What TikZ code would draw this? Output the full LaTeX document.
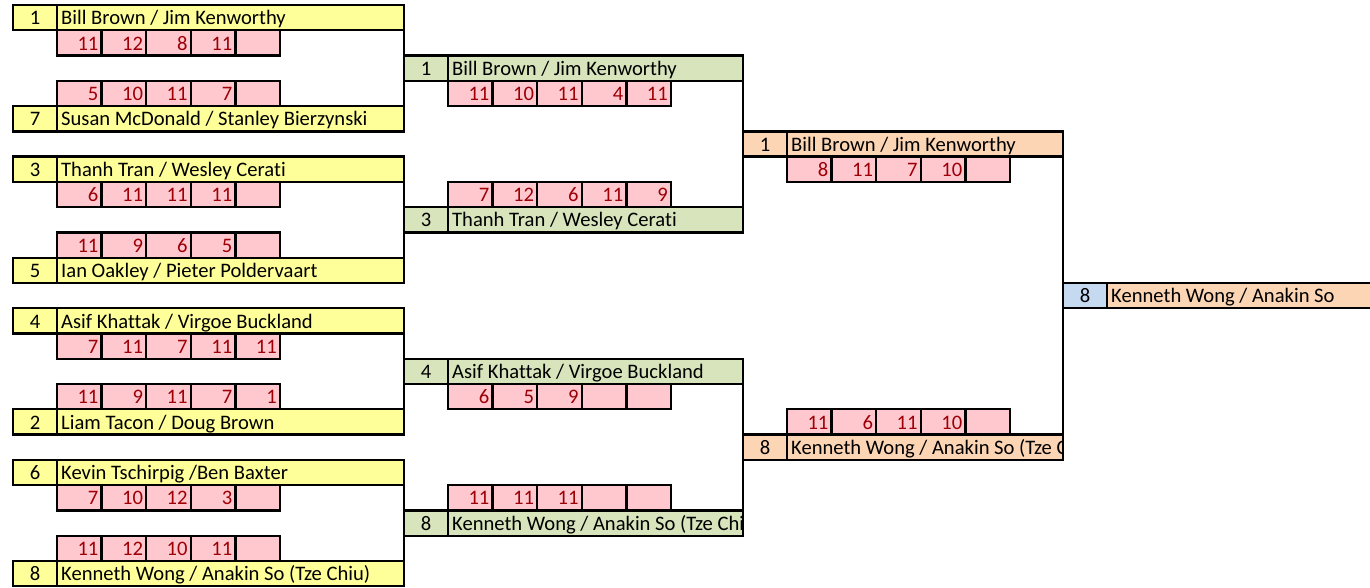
\documentclass[tikz,border=0pt]{standalone}
\usepackage{fontspec}
\setmainfont{Carlito}[Ligatures={NoCommon}]
\definecolor{yel}{HTML}{FFFF99}
\definecolor{grn}{HTML}{D8E4BC}
\definecolor{org}{HTML}{FCD5B4}
\definecolor{blu}{HTML}{C5D9F1}
\definecolor{pnk}{HTML}{FFC7CE}
\definecolor{drd}{HTML}{9C0006}
% #1 name, #2 seed left, #3 name left, #4 name right, #5 row, #6 seed, #7 text, #8 seed colour, #9 name colour
\newcommand{\player}[9]{%
  \pgfmathsetmacro{\yc}{5+25.27*(#5+0.5)}%
  \pgfmathsetmacro{\wa}{#3-#2}%
  \pgfmathsetmacro{\wb}{#4-#3}%
  \node[cellbox, fill=#8, minimum width=\wa pt] (#1s) at ({(#2+#3)/2},\yc) {};
  \node[cellbox, fill=#9, minimum width=\wb pt] (#1) at ({(#3+#4)/2},\yc) {};
  \node[txt, anchor=base] at ([yshift=5.5pt]#1s.south) {#6};
  \begin{scope}
    \clip (#1.south west) rectangle (#1.north east);
    \node[txt, anchor=base west] at ([xshift=4pt,yshift=5.5pt]#1.south west) {#7};
  \end{scope}
}
% one score cell: #1 name, #2 x centre, #3 y centre, #4 value
\newcommand{\scell}[4]{%
  \node[scorebox] (#1) at (#2,#3) {};
  \node[stxt, anchor=base east] at ([xshift=-3pt,yshift=5.5pt]#1.south east) {#4};
}
% #1 name, #2 x left, #3 row, #4-#8 values
\newcommand{\scorerow}[8]{%
  \pgfmathsetmacro{\yc}{5+25.27*(#3+0.5)}%
  \scell{#1a}{#2+22.3}{\yc}{#4}
  \scell{#1b}{#2+66.9}{\yc}{#5}
  \scell{#1c}{#2+111.5}{\yc}{#6}
  \scell{#1d}{#2+156.1}{\yc}{#7}
  \scell{#1e}{#2+200.7}{\yc}{#8}
}
\begin{document}
\begin{tikzpicture}[x=1pt,y=-1pt,
  cellbox/.style={draw=black, line width=2.3pt, rectangle, inner sep=0pt, outer sep=0pt, minimum height=25.27pt},
  scorebox/.style={draw=black, line width=2.3pt, fill=pnk, rectangle, inner sep=0pt, outer sep=0pt, minimum width=44.6pt, minimum height=25.27pt},
  txt/.style={inner sep=0pt, font=\fontsize{20.6}{23}\selectfont, text=black},
  stxt/.style={inner sep=0pt, font=\fontsize{20.6}{23}\selectfont, text=drd},
  conn/.style={draw=black, line width=2.3pt}]
\useasboundingbox (0,0) rectangle (1370,587);
\fill[white] (0,0) rectangle (1370,587);

% first round
\player{p1}{13}{57}{404}{0}{1}{Bill Brown / Jim Kenworthy}{yel}{yel}
\scorerow{sa}{57}{1}{11}{12}{8}{11}{}
\scorerow{sb}{57}{3}{5}{10}{11}{7}{}
\player{p2}{13}{57}{404}{4}{7}{Susan McDonald / Stanley Bierzynski}{yel}{yel}
\player{p3}{13}{57}{404}{6}{3}{Thanh Tran / Wesley Cerati}{yel}{yel}
\scorerow{sc}{57}{7}{6}{11}{11}{11}{}
\scorerow{sd}{57}{9}{11}{9}{6}{5}{}
\player{p4}{13}{57}{404}{10}{5}{Ian Oakley / Pieter Poldervaart}{yel}{yel}
\player{p5}{13}{57}{404}{12}{4}{Asif Khattak / Virgoe Buckland}{yel}{yel}
\scorerow{se}{57}{13}{7}{11}{7}{11}{11}
\scorerow{sf}{57}{15}{11}{9}{11}{7}{1}
\player{p6}{13}{57}{404}{16}{2}{Liam Tacon / Doug Brown}{yel}{yel}
\player{p7}{13}{57}{404}{18}{6}{Kevin Tschirpig /Ben Baxter}{yel}{yel}
\scorerow{sg}{57}{19}{7}{10}{12}{3}{}
\scorerow{sh}{57}{21}{11}{12}{10}{11}{}
\player{p8}{13}{57}{404}{22}{8}{Kenneth Wong / Anakin So (Tze Chiu)}{yel}{yel}

% semi-finals
\player{q1}{404}{448}{743}{2}{1}{Bill Brown / Jim Kenworthy}{grn}{grn}
\scorerow{ta}{448}{3}{11}{10}{11}{4}{11}
\scorerow{tb}{448}{7}{7}{12}{6}{11}{9}
\player{q2}{404}{448}{743}{8}{3}{Thanh Tran / Wesley Cerati}{grn}{grn}
\player{q3}{404}{448}{743}{14}{4}{Asif Khattak / Virgoe Buckland}{grn}{grn}
\scorerow{tc}{448}{15}{6}{5}{9}{}{}
\scorerow{td}{448}{19}{11}{11}{11}{}{}
\player{q4}{404}{448}{743}{20}{8}{Kenneth Wong / Anakin So (Tze Chiu)}{grn}{grn}

% final
\player{r1}{743}{787}{1063}{5}{1}{Bill Brown / Jim Kenworthy}{org}{org}
\scorerow{ua}{787}{6}{8}{11}{7}{10}{}
\scorerow{ub}{787}{16}{11}{6}{11}{10}{}
\player{r2}{743}{787}{1063}{17}{8}{Kenneth Wong / Anakin So (Tze Chiu)}{org}{org}

% winner
\player{w}{1063}{1107}{1385}{11}{8}{Kenneth Wong / Anakin So}{blu}{org}

% bracket connectors
\draw[conn] (p1.north east) -- (p2.south east);
\draw[conn] (p3.north east) -- (p4.south east);
\draw[conn] (p5.north east) -- (p6.south east);
\draw[conn] (p7.north east) -- (p8.south east);
\draw[conn] (q1.north east) -- (q2.south east);
\draw[conn] (q3.north east) -- (q4.south east);
\draw[conn] (r1.north east) -- (r2.south east);
\end{tikzpicture}
\end{document}
